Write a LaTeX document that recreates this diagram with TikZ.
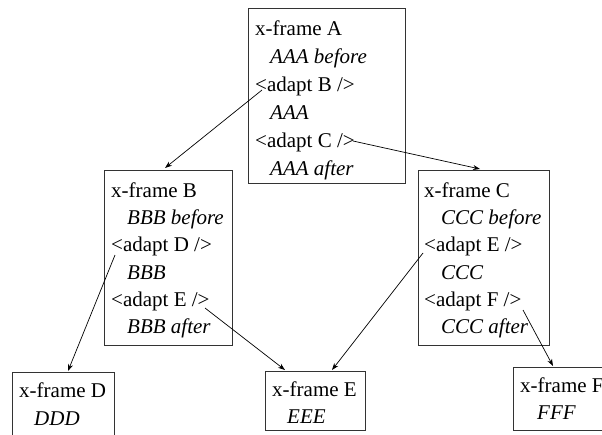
\documentclass[tikz,border=0pt]{standalone}
\usepackage{fontspec}
\setmainfont{Liberation Serif}
\newfontfamily\tnr{Liberation Serif}
\usetikzlibrary{arrows.meta}
\tikzset{
  box/.style={draw=black!80, line width=0.9pt, anchor=north west, inner sep=0pt},
  txt/.style={anchor=base west, inner sep=0pt, font=\tnr\fontsize{21}{24}\selectfont},
  itx/.style={anchor=base west, inner sep=0pt, font=\tnr\fontsize{21}{24}\selectfont\itshape},
  link/.style={draw=black, line width=0.7pt, -{Stealth[length=7pt,width=5pt]}}
}
\begin{document}
\begin{tikzpicture}[x=1pt,y=-1pt]
\useasboundingbox (0,0) rectangle (602,434);
\clip (0,0) rectangle (602,434);
% boxes
\node[box, minimum width=157pt, minimum height=175pt] (A) at (248,8) {};
\node[box, minimum width=128pt, minimum height=175pt] (B) at (104,170) {};
\node[box, minimum width=131pt, minimum height=175pt] (C) at (418,170) {};
\node[box, minimum width=102pt, minimum height=90pt] (D) at (12,372) {};
\node[box, minimum width=100pt, minimum height=59pt] (E) at (265,371) {};
\node[box, minimum width=110pt, minimum height=63pt] (F) at (513,367) {};
% box A text
\node[txt] (a1) at (255,35) {x-frame A};
\node[itx] (a2) at (270,63) {AAA before};
\node[txt] (a3) at (255,91) {<adapt B />};
\node[itx] (a4) at (270,119) {AAA};
\node[txt] (a5) at (255,147) {<adapt C />};
\node[itx] (a6) at (270,175) {AAA after};
% box B text
\node[txt] (b1) at (111,197) {x-frame B};
\node[itx] (b2) at (127,224) {BBB before};
\node[txt] (b3) at (111,251) {<adapt D />};
\node[itx] (b4) at (127,279) {BBB};
\node[txt] (b5) at (111,306) {<adapt E />};
\node[itx] (b6) at (127,333) {BBB after};
% box C text
\node[txt] (c1) at (424,197) {x-frame C};
\node[itx] (c2) at (441,224) {CCC before};
\node[txt] (c3) at (424,251) {<adapt E />};
\node[itx] (c4) at (441,279) {CCC};
\node[txt] (c5) at (424,306) {<adapt F />};
\node[itx] (c6) at (441,333) {CCC after};
% bottom boxes text
\node[txt] (d1) at (19,397) {x-frame D};
\node[itx] (d2) at (34,425) {DDD};
\node[txt] (e1) at (272,396) {x-frame E};
\node[itx] (e2) at (287,423) {EEE};
\node[txt] (f1) at (520,392) {x-frame F};
\node[itx] (f2) at (537,419) {FFF};
% connector ends
\coordinate (sAB) at (262,90);
\coordinate (tB) at (165,168);
\coordinate (sAC) at (353,141);
\coordinate (tC) at (480,169);
\coordinate (sBD) at (115,255);
\coordinate (tD) at (68,371);
\coordinate (sBE) at (205,308);
\coordinate (tE1) at (285,370);
\coordinate (sCE) at (423,253);
\coordinate (tE2) at (332,370);
\coordinate (sCF) at (523,310);
\coordinate (tF) at (553,366);
\draw[link] (sAB) -- (tB);
\draw[link] (sAC) -- (tC);
\draw[link] (sBD) -- (tD);
\draw[link] (sBE) -- (tE1);
\draw[link] (sCE) -- (tE2);
\draw[link] (sCF) -- (tF);
\end{tikzpicture}
\end{document}
